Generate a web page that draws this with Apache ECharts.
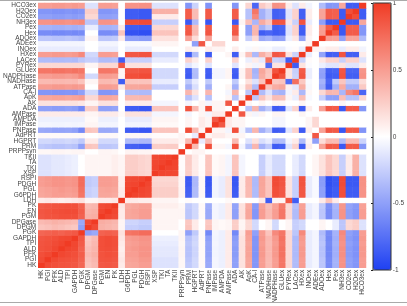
<!DOCTYPE html>
<html><head><meta charset="utf-8">
<script src="https://cdn.jsdelivr.net/npm/echarts@6/dist/echarts.min.js"></script>
<style>html,body{margin:0;padding:0;background:#fff}#c{width:407px;height:306px}</style>
</head><body><div id="c"></div>
<script>
const labels = ['HK','PGI','PFK','ALD','TPI','GAPDH','PGK','DPGM','DPGase','PGM','EN','PK','LDH','G6PDH','PGL','PDGH','RSPI','XSP','TKI','TA','TKII','PRPPsyn','PRM','HGPRT','AdPRT','PNPase','IMPase','AMPDA','AMPase','ADA','AK','ApK','CA-I','ATPase','NADHase','NADPHase','GLUex','PYRex','LACex','HXex','INOex','ADEex','ADOex','Hex','Pex','NH3ex','CO2ex','H2Oex','HCO3ex'];
const colorTicks = [-1, -0.5, 0, 0.5, 1];

// lower-triangle correlation rows (row i holds columns 0..i)
const rHK = [1];
const rPGI = [0.92, 1];
const rPFK = [0.9, 0.93, 1];
const rALD = [0.88, 0.9, 0.94, 1];
const rTPI = [0.87, 0.89, 0.92, 0.95, 1];
const rGAPDH = [0.86, 0.88, 0.9, 0.93, 0.94, 1];
const rPGK = [0.78, 0.8, 0.82, 0.8, 0.83, 0.85, 1];
const rDPGM = [0.3, 0.32, 0.35, 0.33, 0.3, 0.28, -0.5, 1];
const rDPGase = [0.35, 0.37, 0.4, 0.38, 0.36, 0.34, -0.45, 0.92, 1];
const rPGM = [0.85, 0.87, 0.88, 0.9, 0.9, 0.9, 0.8, 0.4, 0.42, 1];
const rEN = [0.86, 0.88, 0.9, 0.91, 0.92, 0.92, 0.82, 0.38, 0.4, 0.95, 1];
const rPK = [0.84, 0.86, 0.88, 0.89, 0.9, 0.9, 0.8, 0.35, 0.37, 0.92, 0.94, 1];
const rLDH = [0.1, 0.12, 0.1, 0.08, 0.1, 0.12, 0.15, 0.05, 0.05, 0.1, 0.1, 0.12, 1];
const rG6PDH = [0.45, 0.47, 0.5, 0.5, 0.48, 0.5, 0.7, -0.25, -0.22, 0.45, 0.45, 0.43, 0.1, 1];
const rPGL = [0.46, 0.48, 0.5, 0.52, 0.5, 0.52, 0.72, -0.25, -0.22, 0.46, 0.47, 0.45, 0.1, 0.96, 1];
const rPDGH = [0.5, 0.52, 0.55, 0.55, 0.53, 0.55, 0.75, -0.28, -0.25, 0.5, 0.5, 0.48, 0.08, 0.94, 0.95, 1];
const rRSPI = [0.5, 0.52, 0.55, 0.55, 0.53, 0.55, 0.75, -0.28, -0.25, 0.5, 0.5, 0.48, 0.08, 0.92, 0.93, 0.95, 1];
const rXSP = [-0.15, -0.15, -0.12, -0.12, -0.1, -0.08, 0.0, 0.05, 0.05, 0.05, 0.05, 0.08, 0.05, 0.25, 0.25, 0.22, 0.2, 1];
const rTKI = [-0.15, -0.15, -0.12, -0.12, -0.1, -0.08, 0.0, 0.05, 0.05, 0.05, 0.05, 0.08, 0.05, 0.25, 0.25, 0.22, 0.2, 0.95, 1];
const rTA = [-0.15, -0.15, -0.12, -0.12, -0.1, -0.08, 0.0, 0.05, 0.05, 0.05, 0.05, 0.08, 0.05, 0.25, 0.25, 0.22, 0.2, 0.94, 0.96, 1];
const rTKII = [-0.15, -0.15, -0.12, -0.12, -0.1, -0.08, 0.0, 0.05, 0.05, 0.05, 0.05, 0.08, 0.05, 0.25, 0.25, 0.22, 0.2, 0.93, 0.95, 0.96, 1];
const rPRPPsyn = [0.04, 0.04, 0.05, 0.05, 0.04, 0.05, 0.05, 0.0, 0.0, 0.05, 0.05, 0.04, 0.0, 0.06, 0.06, 0.05, 0.05, 0.02, 0.02, 0.02, 0.02, 1];
const rPRM = [-0.28, -0.3, -0.32, -0.32, -0.3, -0.32, -0.5, 0.3, 0.28, -0.3, -0.3, -0.28, 0.02, -0.82, -0.83, -0.86, -0.86, 0.25, 0.25, 0.26, 0.26, 0.0, 1];
const rHGPRT = [-0.2, -0.2, -0.22, -0.22, -0.2, -0.22, -0.28, 0.1, 0.1, -0.2, -0.2, -0.2, 0.0, -0.35, -0.35, -0.37, -0.37, 0.1, 0.1, 0.1, 0.1, 0.05, 0.35, 1];
const rAdPRT = [0.03, 0.03, 0.03, 0.03, 0.03, 0.03, 0.03, 0.0, 0.0, 0.03, 0.03, 0.03, 0.0, 0.04, 0.04, 0.04, 0.04, 0.02, 0.02, 0.02, 0.02, 0.05, 0.0, -0.1, 1];
const rPNPase = [-0.45, -0.46, -0.48, -0.48, -0.47, -0.5, -0.62, 0.3, 0.28, -0.45, -0.45, -0.43, 0.0, -0.85, -0.86, -0.88, -0.88, 0.3, 0.3, 0.3, 0.3, 0.0, 0.9, 0.35, 0.05, 1];
const rIMPase = [-0.05, -0.05, -0.06, -0.06, -0.05, -0.06, -0.05, 0.05, 0.05, -0.05, -0.05, -0.05, 0.0, -0.06, -0.06, -0.06, -0.06, 0.03, 0.03, 0.03, 0.03, 0.0, 0.05, 0.0, 0.1, 0.05, 1];
const rAMPDA = [-0.08, -0.08, -0.08, -0.08, -0.08, -0.08, -0.08, 0.03, 0.03, -0.08, -0.08, -0.08, 0.0, -0.1, -0.1, -0.1, -0.1, 0.05, 0.05, 0.05, 0.05, 0.0, 0.05, 0.0, 0.1, 0.05, 0.85, 1];
const rAMPase = [0.1, 0.1, 0.1, 0.1, 0.1, 0.1, 0.1, 0.05, 0.05, 0.1, 0.1, 0.1, 0.03, 0.15, 0.15, 0.15, 0.15, -0.05, -0.05, -0.05, -0.05, 0.0, -0.05, 0.0, 0.05, -0.05, 0.1, 0.1, 1];
const rADA = [-0.5, -0.5, -0.52, -0.52, -0.5, -0.52, -0.62, 0.25, 0.25, -0.5, -0.5, -0.48, 0.0, -0.85, -0.86, -0.88, -0.88, 0.3, 0.3, 0.3, 0.3, 0.0, 0.88, 0.35, 0.05, 0.9, 0.05, 0.05, 0.0, 1];
const rAK = [0.15, 0.15, 0.15, 0.15, 0.15, 0.15, 0.12, 0.05, 0.05, 0.15, 0.15, 0.15, 0.0, 0.1, 0.1, 0.1, 0.1, -0.05, -0.05, -0.05, -0.05, 0.0, -0.05, 0.0, 0.05, -0.05, 0.05, 0.05, 0.85, 0.0, 1];
const rApK = [0.45, 0.45, 0.47, 0.47, 0.45, 0.47, 0.5, 0.2, 0.2, 0.45, 0.45, 0.43, 0.0, 0.35, 0.35, 0.36, 0.36, 0.0, 0.0, 0.0, 0.0, 0.0, -0.32, -0.15, 0.0, -0.33, 0.0, 0.0, 0.05, -0.32, 0.05, 1];
const rCAI = [-0.55, -0.55, -0.56, -0.56, -0.55, -0.56, -0.5, -0.2, -0.2, -0.55, -0.55, -0.53, 0.0, -0.35, -0.35, -0.36, -0.36, 0.0, 0.0, 0.0, 0.0, 0.0, 0.37, 0.15, 0.0, 0.37, 0.0, 0.0, -0.05, 0.37, 0.0, -0.3, 1];
const rATPase = [0.5, 0.5, 0.52, 0.52, 0.5, 0.52, 0.5, 0.0, 0.0, 0.5, 0.5, 0.48, 0.1, 0.45, 0.45, 0.46, 0.46, -0.25, -0.25, -0.25, -0.25, 0.0, -0.41, -0.17, 0.0, -0.42, 0.0, 0.0, 0.05, -0.41, 0.05, 0.3, -0.35, 1];
const rNADHase = [0.35, 0.35, 0.36, 0.36, 0.35, 0.36, 0.3, 0.05, 0.05, 0.35, 0.35, 0.33, -0.85, 0.3, 0.3, 0.3, 0.3, -0.1, -0.1, -0.1, -0.1, 0.0, -0.28, -0.1, 0.0, -0.28, 0.0, 0.0, 0.0, -0.28, 0.0, 0.15, -0.15, 0.3, 1];
const rNADPHase = [0.5, 0.5, 0.52, 0.52, 0.5, 0.52, 0.6, -0.2, -0.2, 0.5, 0.5, 0.48, 0.05, 0.9, 0.9, 0.92, 0.92, -0.2, -0.2, -0.2, -0.2, 0.0, -0.86, -0.35, 0.0, -0.86, -0.05, -0.05, 0.05, -0.86, 0.05, 0.33, -0.37, 0.42, 0.28, 1];
const rGLUex = [0.7, 0.7, 0.72, 0.72, 0.7, 0.72, 0.7, 0.0, 0.0, 0.7, 0.7, 0.68, 0.05, 0.85, 0.85, 0.87, 0.87, -0.2, -0.2, -0.2, -0.2, 0.0, -0.83, -0.34, 0.0, -0.84, -0.05, -0.05, 0.05, -0.83, 0.05, 0.32, -0.4, 0.45, 0.3, 0.88, 1];
const rPYRex = [0.2, 0.2, 0.2, 0.2, 0.2, 0.2, 0.2, 0.05, 0.05, 0.2, 0.2, 0.2, 0.85, 0.15, 0.15, 0.15, 0.15, 0.0, 0.0, 0.0, 0.0, 0.0, -0.14, -0.05, 0.0, -0.14, 0.0, 0.0, 0.0, -0.14, 0.0, 0.05, -0.06, 0.07, -0.77, 0.14, 0.14, 1];
const rLACex = [-0.35, -0.35, -0.36, -0.36, -0.35, -0.36, -0.3, -0.25, -0.25, -0.35, -0.35, -0.33, -0.85, -0.25, -0.25, -0.25, -0.25, -0.1, -0.1, -0.1, -0.1, 0.0, 0.23, 0.1, 0.0, 0.23, 0.0, 0.0, 0.0, 0.23, 0.0, -0.09, 0.1, -0.11, 0.73, -0.23, -0.25, -0.85, 1];
const rHXex = [0.5, 0.5, 0.52, 0.52, 0.5, 0.52, 0.6, -0.2, -0.2, 0.5, 0.5, 0.48, 0.0, 0.85, 0.85, 0.87, 0.87, -0.2, -0.2, -0.2, -0.2, 0.0, -0.85, -0.35, 0.0, -0.86, 0.0, 0.0, 0.05, -0.85, 0.05, 0.32, -0.37, 0.41, 0.28, 0.86, 0.83, 0.14, -0.23, 1];
const rINOex = [-0.1, -0.1, -0.1, -0.1, -0.1, -0.1, -0.1, 0.0, 0.0, -0.1, -0.1, -0.1, 0.0, -0.1, -0.1, -0.1, -0.1, 0.0, 0.0, 0.0, 0.0, 0.0, 0.09, 0.05, 0.0, 0.09, 0.05, 0.05, 0.0, 0.09, 0.0, -0.03, 0.04, -0.04, -0.03, -0.09, -0.09, -0.02, 0.02, -0.09, 1];
const rADEex = [-0.05, -0.05, -0.05, -0.05, -0.05, -0.05, -0.05, 0.0, 0.0, -0.05, -0.05, -0.05, 0.0, -0.03, -0.03, -0.03, -0.03, 0.05, 0.05, 0.05, 0.05, 0.0, 0.0, -0.5, 0.85, 0.0, 0.2, 0.2, 0.0, 0.0, 0.0, 0.0, 0.0, 0.0, 0.0, 0.0, 0.0, 0.0, 0.0, 0.0, 0.05, 1];
const rADOex = [-0.3, -0.3, -0.32, -0.32, -0.3, -0.32, -0.35, 0.05, 0.05, -0.3, -0.3, -0.28, 0.1, -0.5, -0.5, -0.52, -0.52, 0.15, 0.15, 0.15, 0.15, 0.0, 0.48, 0.18, 0.0, 0.48, 0.0, 0.0, 0.0, 0.48, 0.0, -0.25, 0.2, -0.45, -0.4, -0.5, -0.48, -0.08, 0.12, -0.48, 0.05, 0.0, 1];
const rHex = [-0.6, -0.6, -0.62, -0.62, -0.6, -0.62, -0.6, 0.0, 0.0, -0.6, -0.6, -0.58, 0.3, -0.9, -0.9, -0.92, -0.92, 0.3, 0.3, 0.3, 0.3, 0.0, 0.85, 0.35, 0.0, 0.86, 0.0, 0.0, 0.0, 0.85, 0.0, -0.5, 0.37, -0.85, -0.8, -0.86, -0.83, -0.14, 0.23, -0.85, 0.09, 0.0, 0.5, 1];
const rPex = [-0.4, -0.4, -0.42, -0.42, -0.4, -0.42, -0.4, -0.1, -0.1, -0.4, -0.4, -0.38, 0.1, -0.85, -0.85, -0.87, -0.87, 0.2, 0.2, 0.2, 0.2, 0.0, 0.83, 0.34, 0.0, 0.84, 0.0, 0.0, 0.0, 0.83, 0.0, -0.5, 0.36, -0.41, -0.27, -0.84, -0.81, -0.14, 0.23, -0.83, 0.09, 0.0, 0.48, 0.83, 1];
const rNH3ex = [0.55, 0.55, 0.57, 0.57, 0.55, 0.57, 0.6, -0.3, -0.3, 0.55, 0.55, 0.53, 0.0, 0.9, 0.9, 0.92, 0.92, -0.25, -0.25, -0.25, -0.25, 0.0, -0.87, -0.36, 0.0, -0.88, 0.0, 0.0, 0.0, -0.87, 0.05, 0.33, -0.38, 0.43, 0.29, 0.88, 0.86, 0.14, -0.24, 0.87, -0.1, 0.0, -0.5, -0.87, -0.86, 1];
const rCO2ex = [-0.5, -0.5, -0.52, -0.52, -0.5, -0.52, -0.5, 0.2, 0.2, -0.5, -0.5, -0.48, 0.0, -0.85, -0.85, -0.87, -0.87, 0.1, 0.1, 0.1, 0.1, 0.0, 0.83, 0.34, 0.0, 0.84, 0.0, 0.0, 0.0, 0.83, 0.0, -0.32, 0.6, -0.41, -0.27, -0.84, -0.81, -0.14, 0.23, -0.83, 0.09, 0.0, 0.46, 0.83, 0.81, -0.86, 1];
const rH2Oex = [-0.55, -0.55, -0.57, -0.57, -0.55, -0.57, -0.55, 0.25, 0.25, -0.55, -0.55, -0.53, 0.0, -0.85, -0.85, -0.87, -0.87, 0.4, 0.4, 0.4, 0.4, 0.0, 0.83, 0.34, 0.0, 0.84, 0.0, 0.0, 0.0, 0.83, 0.0, -0.32, 0.7, -0.41, -0.27, -0.84, -0.81, -0.14, 0.23, -0.83, 0.09, 0.0, 0.46, 0.83, 0.81, -0.86, 0.9, 1];
const rHCO3ex = [0.5, 0.5, 0.52, 0.52, 0.5, 0.52, 0.5, -0.15, -0.15, 0.5, 0.5, 0.48, 0.0, 0.55, 0.55, 0.56, 0.56, -0.15, -0.15, -0.15, -0.15, 0.0, -0.55, -0.23, 0.0, -0.56, 0.0, 0.0, 0.0, -0.55, 0.0, 0.21, -0.8, 0.27, 0.18, 0.56, 0.54, 0.09, -0.15, 0.1, -0.06, 0.0, -0.35, -0.55, -0.54, 0.45, -0.85, -0.85, 1];

const lowerRows = [rHK, rPGI, rPFK, rALD, rTPI, rGAPDH, rPGK, rDPGM, rDPGase, rPGM, rEN, rPK, rLDH, rG6PDH, rPGL, rPDGH, rRSPI, rXSP, rTKI, rTA, rTKII, rPRPPsyn, rPRM, rHGPRT, rAdPRT, rPNPase, rIMPase, rAMPDA, rAMPase, rADA, rAK, rApK, rCAI, rATPase, rNADHase, rNADPHase, rGLUex, rPYRex, rLACex, rHXex, rINOex, rADEex, rADOex, rHex, rPex, rNH3ex, rCO2ex, rH2Oex, rHCO3ex];

const cells = [];
lowerRows.forEach(function (row, i) {
  row.forEach(function (v, j) {
    cells.push([j, i, v]);
    if (i !== j) cells.push([i, j, v]);
  });
});

const chart = echarts.init(document.getElementById('c'), null, {renderer: 'canvas'});
const font = 'Liberation Sans, Arial, sans-serif';
chart.setOption({
  animation: false,
  backgroundColor: '#fff',
  grid: [
    {left: 37, top: 3, width: 329, height: 267},
    {left: 373, top: 3, width: 18, height: 267}
  ],
  xAxis: [
    {type: 'category', data: labels, gridIndex: 0,
     axisLabel: {rotate: 90, interval: 0, fontSize: 6.5, margin: 2, color: '#444', fontFamily: font},
     axisTick: {show: false}, axisLine: {show: false}, splitLine: {show: false}},
    {type: 'value', gridIndex: 1, show: false, min: 0, max: 1}
  ],
  yAxis: [
    {type: 'category', data: labels, gridIndex: 0,
     axisLabel: {interval: 0, fontSize: 6.5, margin: 2, color: '#444', fontFamily: font},
     axisTick: {show: false}, axisLine: {show: false}, splitLine: {show: false}},
    {type: 'value', gridIndex: 1, min: colorTicks[0], max: colorTicks[colorTicks.length - 1], interval: 0.5, position: 'right',
     axisLabel: {fontSize: 6.5, margin: 4, color: '#444', fontFamily: font},
     axisTick: {show: true, inside: true, length: 2, lineStyle: {color: '#222'}},
     axisLine: {show: false}, splitLine: {show: false}}
  ],
  visualMap: {
    type: 'continuous', min: -1, max: 1, calculable: false, show: true,
    left: 373, top: 3, itemWidth: 18, itemHeight: 267, padding: 0, text: null,
    seriesIndex: 0,
    inRange: {color: ['#1e40f2', '#ffffff', '#f03b24']}
  },
  graphic: [
    {type: 'rect', z: 100, shape: {x: 373, y: 3, width: 18, height: 267}, style: {fill: 'none', stroke: '#333', lineWidth: 1}},
    {type: 'line', z: 100, shape: {x1: 0, y1: 0.5, x2: 407, y2: 0.5}, style: {stroke: '#aaa', lineWidth: 1}},
    {type: 'line', z: 100, shape: {x1: 0, y1: 302.5, x2: 407, y2: 302.5}, style: {stroke: '#aaa', lineWidth: 1}}
  ],
  series: [{type: 'heatmap', data: cells, xAxisIndex: 0, yAxisIndex: 0, progressive: 0}]
});
</script></body></html>
